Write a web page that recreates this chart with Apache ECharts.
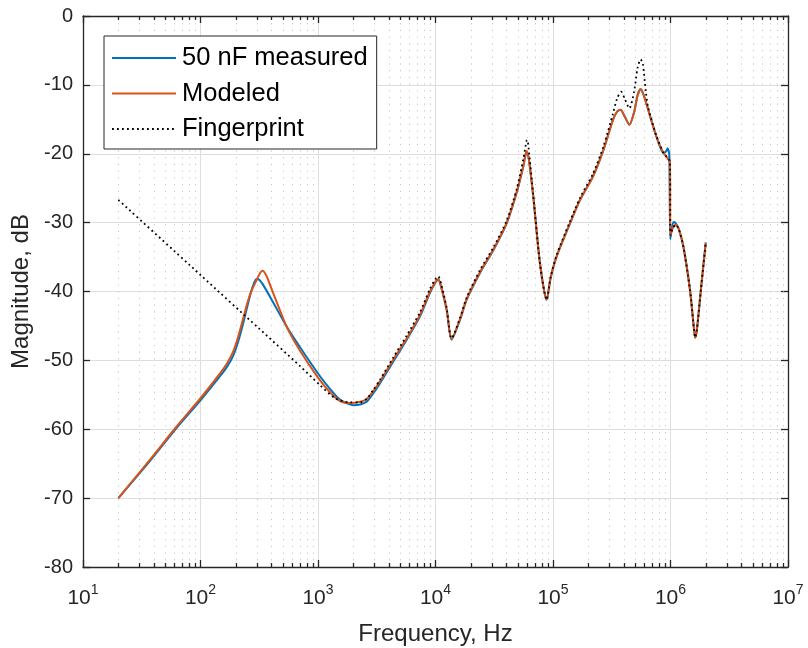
<!DOCTYPE html>
<html>
<head>
<meta charset="utf-8">
<script src="https://cdn.jsdelivr.net/npm/echarts@6/dist/echarts.min.js"></script>
<style>html,body{margin:0;padding:0;background:#fff;}#c{width:808px;height:648px;}</style>
</head>
<body>
<div id="c"></div>
<script>
// Frequency (Hz), magnitude (dB)
var measured = [[20,-70],[37.2,-64.6],[62.7,-59.8],[100,-55.8],[146.6,-52.3],[170,-50.8],[190,-49.3],[209,-47.3],[231,-44.6],[250,-42.2],[270,-40.0],[288,-38.6],[301,-38.2],[316,-38.3],[340,-39.0],[398,-41.0],[541,-45.1],[703,-48.1],[1000,-51.9],[1259,-54.1],[1538,-55.7],[1995,-56.5],[2290,-56.4],[2594,-56.0],[2950,-54.8],[3375,-53.3],[4365,-50.2],[5690,-47.0],[7380,-43.6],[8980,-40.2],[10000,-38.7],[10570,-38.3],[11220,-39.5],[12450,-42.7],[13700,-47.0],[16180,-44.1],[18400,-41.2],[23900,-37.3],[31060,-34.0],[40360,-30.1],[48980,-25.7],[55830,-21.9],[59570,-19.7],[62000,-20.6],[67920,-26.2],[77440,-35.9],[88310,-41.2],[95500,-38.0],[107400,-34.9],[139600,-30.1],[169800,-26.7],[218800,-23.3],[269200,-19.4],[323600,-15.1],[350800,-13.9],[375800,-13.6],[407400,-14.6],[446700,-15.8],[489800,-14.0],[524800,-11.5],[557200,-10.6],[588800,-11.4],[645700,-13.6],[758600,-17.5],[871000,-19.9],[922600,-19.6],[944100,-19.2],[975000,-20.0],[995000,-32.4],[1023000,-31.0],[1060000,-29.9],[1096000,-30.0],[1175000,-30.9],[1288000,-33.5],[1466000,-39.8],[1585000,-45.5],[1622000,-46.7],[1679000,-45.5],[1820000,-39.5],[1995000,-32.9]];

var modeled = [[20,-70],[37.2,-64.4],[62.7,-59.6],[100,-55.5],[146.6,-51.9],[170,-50.3],[190,-48.7],[209,-46.6],[231,-43.9],[250,-41.7],[270,-40.0],[301,-38.3],[320,-37.4],[336,-37.0],[350,-37.2],[370,-38.0],[398,-39.4],[541,-45.1],[703,-48.6],[1000,-52.5],[1259,-54.6],[1538,-55.9],[1862,-56.2],[2290,-56.0],[2594,-55.6],[2950,-54.5],[3375,-53.0],[4365,-49.9],[5690,-46.8],[7380,-43.4],[8980,-40.0],[10000,-38.6],[10570,-38.2],[11220,-39.4],[12450,-42.6],[13700,-46.9],[16180,-44.0],[18400,-41.1],[23900,-37.2],[31060,-33.9],[40360,-30.0],[48980,-25.6],[55830,-21.8],[59570,-19.6],[62000,-20.5],[67920,-26.2],[77440,-35.9],[88310,-41.2],[95500,-38.0],[107400,-34.9],[139600,-30.1],[169800,-26.7],[218800,-23.3],[269200,-19.4],[323600,-15.1],[350800,-13.9],[375800,-13.6],[407400,-14.6],[446700,-15.8],[489800,-14.0],[524800,-11.5],[557200,-10.6],[588800,-11.4],[645700,-13.6],[758600,-17.5],[871000,-19.9],[922600,-20.4],[955000,-20.8],[988600,-21.0],[1000000,-31.8],[1047000,-30.8],[1109000,-30.3],[1175000,-30.9],[1288000,-33.5],[1466000,-39.8],[1585000,-45.5],[1622000,-46.7],[1679000,-45.5],[1820000,-39.5],[1995000,-32.9]];

var fingerprint = [[20,-26.7],[100,-37.6],[316,-45.4],[700,-50.8],[1040,-53.6],[1400,-55.5],[1862,-56.1],[2290,-56.1],[2594,-55.6],[2950,-54.3],[3375,-52.8],[4365,-49.6],[5690,-46.4],[7380,-43.0],[8980,-39.6],[10000,-38.2],[10570,-37.8],[11220,-39.0],[12450,-42.4],[13700,-46.8],[16180,-43.8],[18400,-40.9],[23900,-36.9],[31060,-33.6],[40360,-29.7],[48980,-25.2],[55830,-20.8],[59570,-18.1],[60500,-18.0],[62000,-19.2],[67920,-26.0],[77440,-35.9],[88310,-41.2],[95500,-37.9],[107400,-34.7],[139600,-29.8],[169800,-26.4],[218800,-22.9],[269200,-18.9],[323600,-14.2],[350800,-12.0],[380200,-11.0],[407400,-12.0],[446700,-13.4],[489800,-11.0],[524800,-7.5],[557200,-6.3],[582100,-7.0],[616600,-11.0],[645700,-13.3],[758600,-17.4],[871000,-19.9],[922600,-20.4],[955000,-20.8],[988600,-21.0],[1000000,-31.8],[1047000,-30.8],[1109000,-30.3],[1175000,-30.9],[1288000,-33.5],[1466000,-39.8],[1585000,-45.5],[1622000,-46.7],[1679000,-45.5],[1820000,-39.5],[1995000,-32.9]];

var seriesNames = ['50 nF measured', 'Modeled', 'Fingerprint'];
var xMin = 10, xMax = 1e7;
var yMin = -80, yMax = 0, yStep = 10;
var minorTicks = [20,30,40,50,60,70,80,90,200,300,400,500,600,700,800,900,2e3,3e3,4e3,5e3,6e3,7e3,8e3,9e3,2e4,3e4,4e4,5e4,6e4,7e4,8e4,9e4,2e5,3e5,4e5,5e5,6e5,7e5,8e5,9e5,2e6,3e6,4e6,5e6,6e6,7e6,8e6,9e6];

var FONT = '"Liberation Sans", Arial, Helvetica, sans-serif';
var AX = '#262626';

var chart = echarts.init(document.getElementById('c'), null, {renderer: 'canvas'});

function xAxisBase(pos, showLabel) {
  return {
    type: 'log', logBase: 10, min: xMin, max: xMax, position: pos,
    axisLine: {show: true, onZero: false, lineStyle: {color: AX, width: 1.3}},
    axisTick: {show: true, inside: true, length: 7, lineStyle: {color: AX, width: 1.3}},
    splitLine: {show: showLabel, lineStyle: {color: '#dedede', width: 1}},
    minorTick: {show: false}, minorSplitLine: {show: false},
    axisLabel: showLabel ? {
      show: true, margin: 16, color: AX,
      formatter: function (v) { var e = Math.round(Math.log10(v)); return '{b|10}{s|' + e + '}'; },
      rich: {
        b: {fontSize: 21, fontFamily: FONT, color: AX, lineHeight: 26, verticalAlign: 'bottom'},
        s: {fontSize: 14, fontFamily: FONT, color: AX, lineHeight: 26, verticalAlign: 'top'}
      }
    } : {show: false},
    name: showLabel ? 'Frequency, Hz' : '',
    nameLocation: 'middle', nameGap: 55,
    nameTextStyle: {fontSize: 24, fontFamily: FONT, color: AX}
  };
}
function yAxisBase(pos, showLabel) {
  return {
    type: 'value', min: yMin, max: yMax, interval: yStep, position: pos,
    axisLine: {show: true, onZero: false, lineStyle: {color: AX, width: 1.3}},
    axisTick: {show: true, inside: true, length: 7, lineStyle: {color: AX, width: 1.3}},
    splitLine: {show: showLabel, lineStyle: {color: '#dedede', width: 1}},
    axisLabel: showLabel ? {show: true, margin: 10, fontSize: 20, fontFamily: FONT, color: AX} : {show: false},
    name: showLabel ? 'Magnitude, dB' : '',
    nameLocation: 'middle', nameGap: 46,
    nameTextStyle: {fontSize: 24, fontFamily: FONT, color: AX}
  };
}

function lineSeries(name, data, color, width, type, z) {
  return {
    type: 'line', name: name, data: data, showSymbol: false, symbol: 'none',
    smooth: 0.25, z: z,
    lineStyle: {color: color, width: width, type: type}, itemStyle: {color: color}
  };
}

var option = {
  animation: false,
  backgroundColor: '#fff',
  grid: {left: 83, right: 20, top: 16, bottom: 81, containLabel: false, outerBoundsMode: 'none'},
  xAxis: [xAxisBase('bottom', true), xAxisBase('top', false)],
  yAxis: [yAxisBase('left', true), yAxisBase('right', false)],
  legend: {
    show: true, orient: 'vertical', left: 104, top: 36,
    data: seriesNames,
    backgroundColor: '#fff', borderColor: AX, borderWidth: 1, borderRadius: 0,
    padding: [9, 9, 7, 7], itemGap: 9.5, itemWidth: 64, itemHeight: 14,
    itemStyle: {opacity: 0},
    textStyle: {fontSize: 25.5, fontFamily: FONT, color: '#000', lineHeight: 25, padding: [0, 0, 0, 1]},
    selectedMode: false
  },
  series: [
    {
      type: 'custom', name: 'minorgrid', xAxisIndex: 0, yAxisIndex: 0, silent: true, z: 1,
      data: minorTicks.map(function (f) { return [f, yMin]; }),
      renderItem: function (params, api) {
        var f = api.value(0);
        var pb = api.coord([f, yMin]);
        var pt = api.coord([f, yMax]);
        var x = Math.round(pb[0]) + 0.5;
        return {type: 'group', children: [
          {type: 'line', shape: {x1: x, y1: pb[1], x2: x, y2: pt[1]}, style: {stroke: '#bcbcbc', lineWidth: 1, lineDash: [1, 5.7]}},
          {type: 'line', shape: {x1: x, y1: pb[1], x2: x, y2: pb[1] - 4}, style: {stroke: AX, lineWidth: 1.3}},
          {type: 'line', shape: {x1: x, y1: pt[1], x2: x, y2: pt[1] + 4}, style: {stroke: AX, lineWidth: 1.3}}
        ]};
      }
    },
    lineSeries(seriesNames[0], measured, '#0072BD', 2, 'solid', 3),
    lineSeries(seriesNames[1], modeled, '#D95319', 2, 'solid', 4),
    lineSeries(seriesNames[2], fingerprint, '#000', 1.8, [1.8, 3.2], 5)
  ]
};
chart.setOption(option);
</script>
</body>
</html>
